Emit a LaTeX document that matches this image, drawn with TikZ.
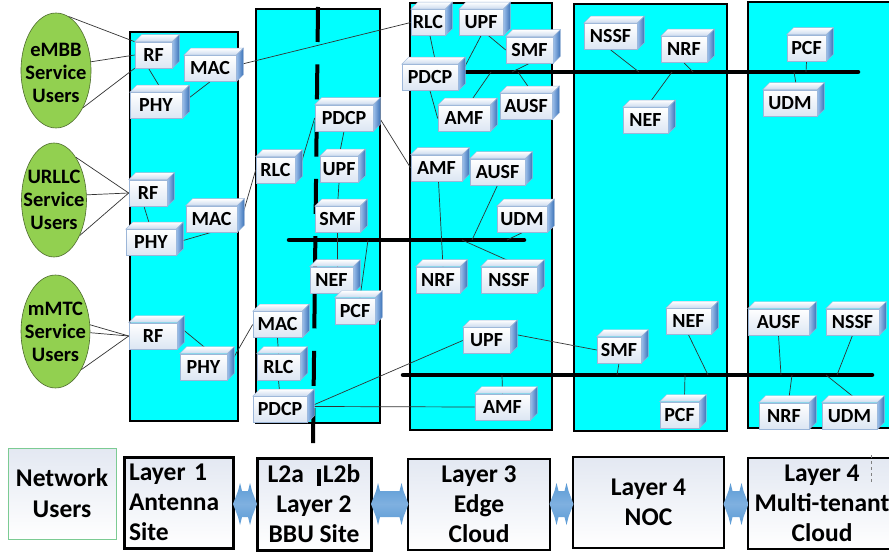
\documentclass[tikz,border=0pt]{standalone}
\usepackage{fontspec}
\setmainfont{Carlito}
\usetikzlibrary{calc,shapes.geometric}
\pgfdeclarelayer{panels}
\pgfdeclarelayer{wires}
\pgfsetlayers{panels,wires,main}

\definecolor{panelc}{HTML}{00FFFF}
\definecolor{usergreen}{HTML}{92D050}
\definecolor{useredge}{HTML}{4E6B2E}
\definecolor{cubeedge}{HTML}{9CB6D8}
\definecolor{cubebot}{HTML}{DCE6F3}
\definecolor{cubetopc}{HTML}{C9D9EE}
\definecolor{cubeside1}{HTML}{9DC0EA}
\definecolor{cubeside2}{HTML}{3C72B8}
\definecolor{wirec}{HTML}{333333}
\definecolor{arrowc}{HTML}{5B9BD5}
\definecolor{arrowlight}{HTML}{7FB0E0}
\definecolor{layerfill}{HTML}{E3E8F2}
\definecolor{netedge}{HTML}{7CCB93}

\tikzset{
 nfbox/.style={draw=cubeedge, line width=0.6pt, top color=white, bottom color=cubebot,
   font=\fontsize{20}{22}\selectfont\bfseries, inner xsep=1pt, inner ysep=0pt, minimum height=26pt},
 userell/.style={ellipse, draw=useredge, line width=0.6pt, fill=usergreen, inner sep=0pt},
 userlbl/.style={align=center, font=\fontsize{20.5}{23}\selectfont\bfseries, inner sep=0pt},
 panelbox/.style={draw=black, line width=2.2pt, fill=panelc},
 wire/.style={draw=wirec, line width=0.7pt},
 busline/.style={draw=black, line width=4.5pt, line cap=round},
 layerbox/.style={draw=black, line width=2pt, top color=layerfill, bottom color=white,
   font=\fontsize{25.5}{30}\selectfont\bfseries, inner sep=0pt, align=center},
 netbox/.style={draw=netedge, line width=1pt, top color=layerfill, bottom color=white,
   font=\fontsize{25.5}{31}\selectfont\bfseries, inner sep=0pt, align=center},
 dblarrow/.style={top color=arrowc, bottom color=arrowc, middle color=arrowlight},
}

\begin{document}
\begin{tikzpicture}[x=1pt,y=-1pt]
\useasboundingbox (0,0) rectangle (889,556);

\begin{pgfonlayer}{panels}
\fill[white] (0,0) rectangle (889,556);
\draw[panelbox] (130,32) rectangle (238,421);
\draw[panelbox] (256,9) rectangle (380,423);
\draw[panelbox] (410,3) rectangle (552,430);
\draw[panelbox] (574,4) rectangle (727,431);
\draw[panelbox] (748,2) rectangle (905,428);
\end{pgfonlayer}

% user ellipses
\node[userell, minimum width=70pt, minimum height=115pt,
  label={[userlbl, yshift=-2pt]center:eMBB\\Service\\Users}] (eA) at (56,70.5) {};
\node[userell, minimum width=65pt, minimum height=114pt,
  label={[userlbl]center:URLLC\\Service\\Users}] (eB) at (54,200) {};
\node[userell, minimum width=69pt, minimum height=113pt,
  label={[userlbl]center:mMTC\\Service\\Users}] (eC) at (55.5,331.5) {};

% Layer 1
\node[nfbox, minimum width=37pt] (rfA) at (153.5,55) {RF};
\node[nfbox, minimum width=52pt] (macA) at (210,68.5) {MAC};
\node[nfbox, minimum width=52pt] (phyA) at (156,105.5) {PHY};
\node[nfbox, minimum width=38pt] (rfB) at (148,193) {RF};
\node[nfbox, minimum width=51pt] (macB) at (211.5,219) {MAC};
\node[nfbox, minimum width=50pt] (phyB) at (151,242.5) {PHY};
\node[nfbox, minimum width=48pt] (rfC) at (153,336) {RF};
\node[nfbox, minimum width=47pt] (phyC) at (203.5,367) {PHY};

% Layer 2
\node[nfbox, minimum width=39pt] (rlcB) at (275.5,170) {RLC};
\node[nfbox, minimum width=58pt] (pdcpB) at (344,118) {PDCP};
\node[nfbox, minimum width=38pt] (upfB) at (339,169.5) {UPF};
\node[nfbox, minimum width=45pt] (smfB) at (337.5,219.5) {SMF};
\node[nfbox, minimum width=43pt] (nefB) at (331.5,280) {NEF};
\node[nfbox, minimum width=40pt] (pcfB) at (355,311) {PCF};
\node[nfbox, minimum width=49pt] (macC) at (277.5,324.5) {MAC};
\node[nfbox, minimum width=43pt] (rlcC) at (278.5,367) {RLC};
\node[nfbox, minimum width=54pt] (pdcpC) at (280,409.5) {PDCP};

% Layer 3
\node[nfbox, minimum width=34pt] (rlcT) at (428,22.5) {RLC};
\node[nfbox, minimum width=44pt] (upfT) at (481,22.5) {UPF};
\node[nfbox, minimum width=47pt] (smfT) at (529.5,50) {SMF};
\node[nfbox, minimum width=56pt] (pdcpT) at (430,77.5) {PDCP};
\node[nfbox, minimum width=52pt] (amfT) at (464,118.5) {AMF};
\node[nfbox, minimum width=52pt] (ausfT) at (526,106.5) {AUSF};
\node[nfbox, minimum width=51pt] (amfM) at (436.5,168) {AMF};
\node[nfbox, minimum width=55pt] (ausfM) at (497.5,172) {AUSF};
\node[nfbox, minimum width=50pt] (udmM) at (522,219.5) {UDM};
\node[nfbox, minimum width=44pt] (nrfM) at (438,280) {NRF};
\node[nfbox, minimum width=56pt] (nssfM) at (509,280) {NSSF};
\node[nfbox, minimum width=47pt] (upfL) at (486.5,340.5) {UPF};
\node[nfbox, minimum width=55pt] (amfL) at (502.5,407) {AMF};

% Layer 4 NOC
\node[nfbox, minimum width=53pt] (nssfN) at (610.5,36.5) {NSSF};
\node[nfbox, minimum width=46pt] (nrfN) at (684,49.5) {NRF};
\node[nfbox, minimum width=45pt] (nefN) at (645.5,120.5) {NEF};
\node[nfbox, minimum width=45pt] (nefNL) at (688.5,321.5) {NEF};
\node[nfbox, minimum width=44pt] (smfNL) at (619,350) {SMF};
\node[nfbox, minimum width=39pt] (pcfNL) at (679.5,415) {PCF};

% Layer 4 multi-tenant
\node[nfbox, minimum width=39pt] (pcfM) at (806.5,48) {PCF};
\node[nfbox, minimum width=54pt] (udmM2) at (790,103) {UDM};
\node[nfbox, minimum width=61pt] (ausfML) at (778.5,322) {AUSF};
\node[nfbox, minimum width=53pt] (nssfML) at (852.5,322) {NSSF};
\node[nfbox, minimum width=50pt] (nrfML) at (784,416) {NRF};
\node[nfbox, minimum width=55pt] (udmML) at (849.5,416) {UDM};

% 3D faces of the boxes
\foreach \n in {rfA,macA,phyA,rfB,macB,phyB,rfC,phyC,rlcB,pdcpB,upfB,smfB,nefB,pcfB,macC,rlcC,pdcpC,
  rlcT,upfT,smfT,pdcpT,amfT,ausfT,amfM,ausfM,udmM,nrfM,nssfM,upfL,amfL,
  nssfN,nrfN,nefN,nefNL,smfNL,pcfNL,pcfM,udmM2,ausfML,nssfML,nrfML,udmML} {
  \shade[top color=white, bottom color=cubetopc, draw=cubeedge, line width=0.4pt]
    (\n.north west) -- ++(7pt,7pt) -- ([shift={(7pt,7pt)}]\n.north east) -- (\n.north east) -- cycle;
  \shade[left color=cubeside1, right color=cubeside2, draw=cubeedge, line width=0.4pt]
    (\n.north east) -- ++(7pt,7pt) -- ([shift={(7pt,7pt)}]\n.south east) -- (\n.south east) -- cycle;
}

% bus coordinates
\coordinate (busAs) at (462,72); \coordinate (busAe) at (858,72);
\coordinate (busBs) at (289,240); \coordinate (busBe) at (524,240);
\coordinate (busCs) at (403,375); \coordinate (busCe) at (872,375);
\coordinate (tA1) at (512,72); \coordinate (tA2) at (518,72); \coordinate (tA3) at (491,72);
\coordinate (tA4) at (639,72); \coordinate (tA5) at (693,72); \coordinate (tA6) at (672,72);
\coordinate (tA7) at (806,72); \coordinate (tA8) at (794,72);
\coordinate (tB1) at (368,240); \coordinate (tB2) at (472,240); \coordinate (tB3) at (507,240);
\coordinate (tB4) at (462,240);
\coordinate (tC1) at (502,375); \coordinate (tC2) at (617,375); \coordinate (tC3) at (708,375);
\coordinate (tC4) at (685,375); \coordinate (tC5) at (781,375); \coordinate (tC6) at (792,375);
\coordinate (tC7) at (837,375); \coordinate (tC8) at (826,375);
\coordinate (dashTop) at (318,7); \coordinate (dashBot) at (313,445);

\begin{pgfonlayer}{wires}
\draw[line width=4pt, dash pattern=on 35pt off 22.3pt] (dashTop) -- (dashBot);
\draw[busline] (busAs) -- (busAe);
\draw[busline] (busBs) -- (busBe);
\draw[busline] (busCs) -- (busCe);

% users to RF
\draw[wire] (eA.77) -- (rfA.north west);
\draw[wire] (eA.14) -- (rfA.west);
\draw[wire] (eA.-54) -- (rfA.south west);
\draw[wire] (eB.63) -- (rfB.west);
\draw[wire] (eB.9) -- (rfB.west);
\draw[wire] (eB.-54) -- (rfB.west);
\draw[wire] (eC.11) -- (rfC.west);
\draw[wire] (eC.-2) -- (rfC.west);
\draw[wire] (eC.-56) -- (rfC.west);

% layer 1
\draw[wire] ([xshift=-5pt]rfA.south) -- ([xshift=7pt]phyA.north);
\draw[wire] ([shift={(6pt,7pt)}]phyA.east) -- (macA.south);
\draw[wire] ([shift={(4pt,4pt)}]macA.east) -- (rlcT.west);
\draw[wire] ([xshift=-4pt]rfB.south) -- (phyB.north);
\draw[wire] (phyB.east) -- (macB.south);
\draw[wire] ([shift={(5pt,3pt)}]macB.east) -- (rlcB.west);
\draw[wire] ([shift={(5pt,7pt)}]rfC.east) -- ([shift={(4pt,4pt)}]phyC.north);
\draw[wire] ([shift={(5pt,7pt)}]phyC.east) -- (macC.west);

% layer 2
\draw[wire] ([shift={(5pt,4pt)}]rlcB.east) -- (pdcpB.west);
\draw[wire] (pdcpB.south) -- (upfB.north);
\draw[wire] (upfB.south) -- (smfB.north);
\draw[wire] ([shift={(5pt,2pt)}]pdcpB.east) -- (amfM.west);
\draw[wire] (smfB.south) -- ([xshift=6pt]nefB.north);
\draw[wire] ([xshift=5pt]pcfB.north) -- (tB1);
\draw[wire] (macC.south) -- (rlcC.north);
\draw[wire] (rlcC.south) -- (pdcpC.north);
\draw[wire] ([shift={(5pt,4pt)}]pdcpC.east) -- (upfL.west);
\draw[wire] ([shift={(5pt,3pt)}]pdcpC.east) -- (amfL.west);

% layer 3
\draw[wire] ([xshift=2pt]rlcT.south) -- ([xshift=6pt]pdcpT.north);
\draw[wire] (upfT.south) -- (busAs);
\draw[wire] (upfT.300) -- (smfT.west);
\draw[wire] (smfT.south) -- (tA1);
\draw[wire] (tA2) -- ([shift={(4pt,4pt)}]ausfT.north);
\draw[wire] (tA3) -- ([xshift=4pt]amfT.north);
\draw[wire] (pdcpT.south) -- (amfT.west);
\draw[wire] ([xshift=2pt]amfM.south) -- ([xshift=5pt]nrfM.north);
\draw[wire] (ausfM.south) -- (tB2);
\draw[wire] (udmM.south) -- (tB3);
\draw[wire] (tB4) -- ([shift={(4pt,4pt)}]nssfM.north);
\draw[wire] ([shift={(5pt,6pt)}]upfL.east) -- (smfNL.west);
\draw[wire] (amfL.north) -- (tC1);

% layer 4 NOC
\draw[wire] (nssfN.south) -- (tA4);
\draw[wire] (nrfN.south) -- (tA5);
\draw[wire] (tA6) -- ([shift={(3pt,3pt)}]nefN.north);
\draw[wire] (smfNL.south) -- (tC2);
\draw[wire] (nefNL.south) -- (tC3);
\draw[wire] (tC4) -- ([shift={(5pt,4pt)}]pcfNL.north);

% layer 4 multi-tenant
\draw[wire] (pcfM.south) -- (tA7);
\draw[wire] (tA8) -- ([shift={(6pt,6pt)}]udmM2.north);
\draw[wire] (ausfML.south) -- (tC5);
\draw[wire] (tC6) -- ([shift={(5pt,5pt)}]nrfML.north);
\draw[wire] (nssfML.south) -- (tC7);
\draw[wire] (tC8) -- ([shift={(5pt,5pt)}]udmML.north);
\end{pgfonlayer}

% bottom layer boxes
\node[netbox, minimum width=108pt, minimum height=91pt] (nu) at (62,493.5) {Network\\Users};
\node[layerbox, line width=3pt, minimum width=109pt, minimum height=91pt, text width=99pt, align=left] (l1) at (178.5,502.5) {Layer 1\\Antenna\\Site};
\node[layerbox, line width=3pt, minimum width=114pt, minimum height=92pt] (l2) at (314,504)
  {L2a\hspace{13pt}\rule[-3pt]{4pt}{17pt}\hspace{2pt}L2b\hspace{8pt}\\Layer 2\\BBU Site};
\node[layerbox, minimum width=142pt, minimum height=91pt] (l3) at (479,504.5) {Layer 3\\Edge\\Cloud};
\node[layerbox, minimum width=151pt, minimum height=91pt] (l4) at (648.5,502.5) {Layer 4\\NOC};
\node[layerbox, minimum width=148pt, minimum height=91pt] (l5) at (822,503.5) {Layer 4\\Multi-tenant\\Cloud};
\coordinate (mtdA) at (871,455); \coordinate (mtdB) at (871,483);
\draw[dashed, line width=0.6pt, gray] (mtdA) -- (mtdB);

% double arrows between layer boxes
\foreach \a/\b in {l1/l2, l2/l3, l3/l4, l4/l5} {
  \coordinate (p) at ([xshift=-1.5pt]\a.east |- l2.center);
  \coordinate (q) at ([xshift=1.5pt]\b.west |- l2.center);
  \shade[dblarrow] (p) -- ([shift={(5pt,13pt)}]p) -- ([shift={(7pt,21pt)}]p) -- ([shift={(9pt,13pt)}]p)
    -- ([shift={(-9pt,13pt)}]q) -- ([shift={(-7pt,21pt)}]q) -- ([shift={(-5pt,13pt)}]q) -- (q)
    -- ([shift={(-5pt,-13pt)}]q) -- ([shift={(-7pt,-21pt)}]q) -- ([shift={(-9pt,-13pt)}]q)
    -- ([shift={(9pt,-13pt)}]p) -- ([shift={(7pt,-21pt)}]p) -- ([shift={(5pt,-13pt)}]p) -- cycle;
}
\end{tikzpicture}
\end{document}
